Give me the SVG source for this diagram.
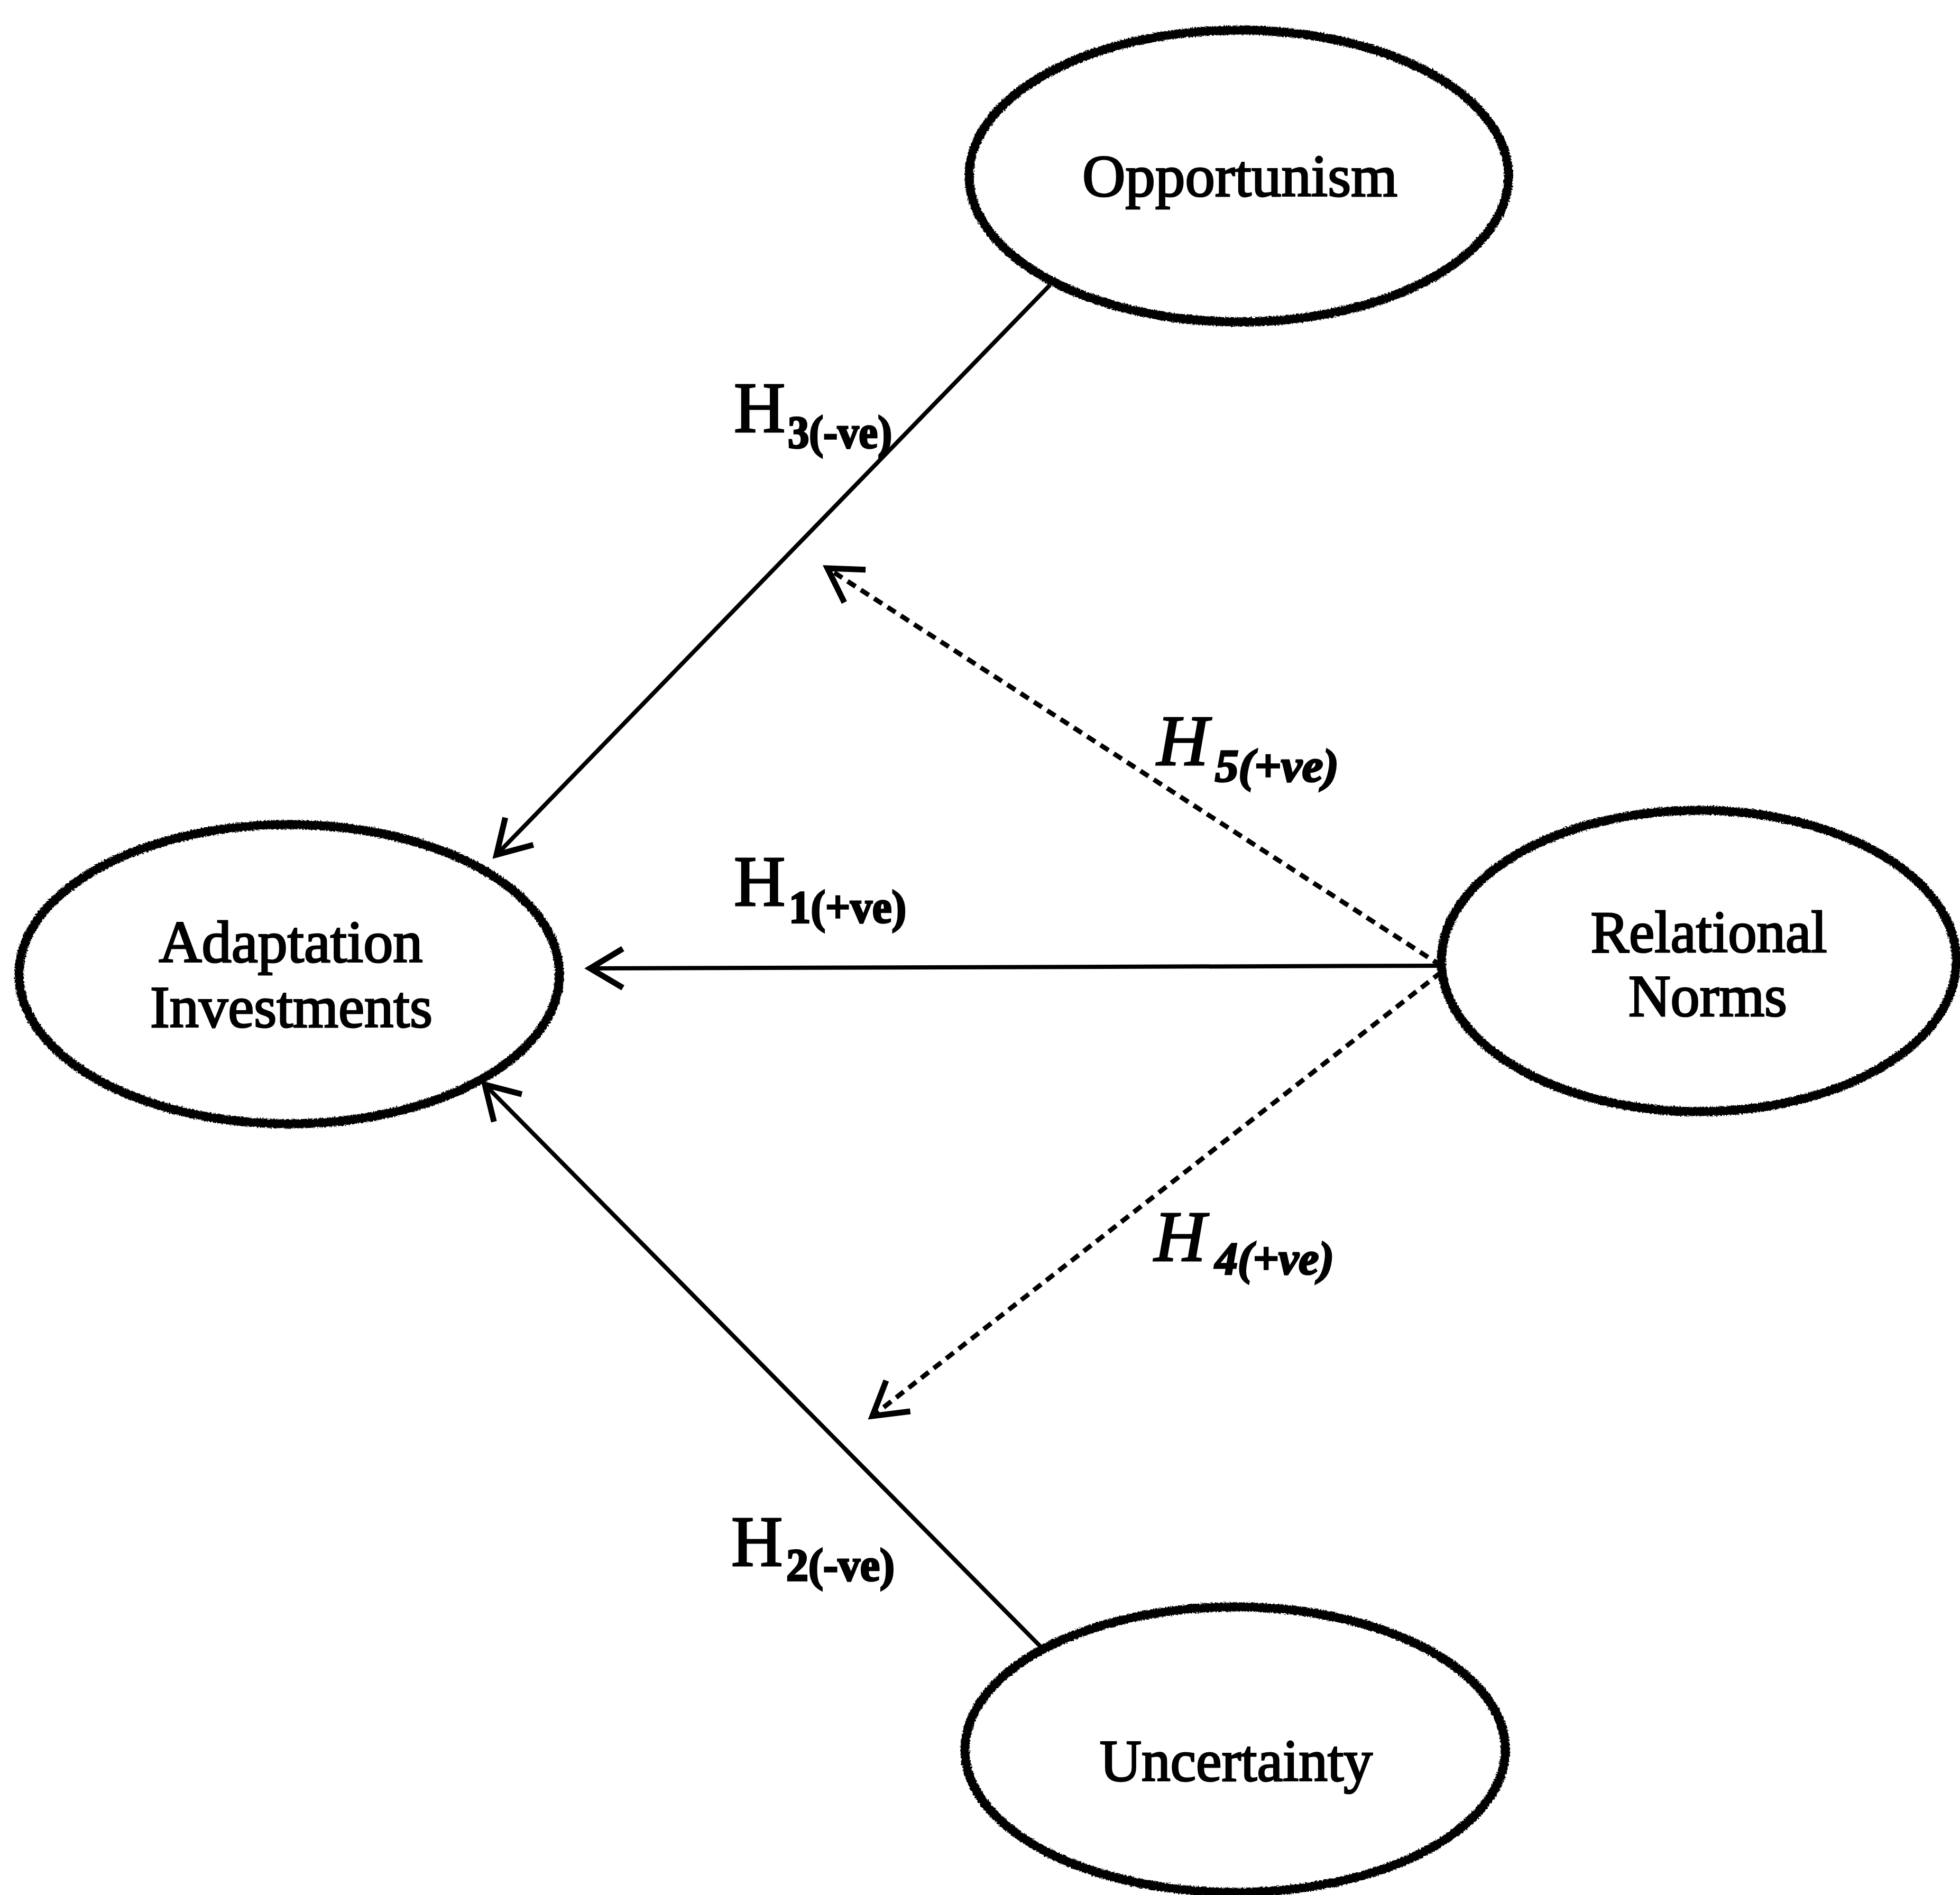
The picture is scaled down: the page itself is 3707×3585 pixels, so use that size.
<svg xmlns="http://www.w3.org/2000/svg" width="3707" height="3585" viewBox="0 0 3707 3585">
<style>
.node ellipse{fill:#fff;stroke:#000;stroke-width:17}
.lbl{font-family:"Liberation Serif","Times New Roman",serif;font-size:112px;fill:#000;stroke:#000;stroke-width:3;text-anchor:middle}
.h{font-family:"Liberation Serif","Times New Roman",serif;font-size:135px;fill:#000;stroke:#000;stroke-width:3}
.sub{font-family:"Liberation Serif","Times New Roman",serif;font-size:86px;fill:#000;stroke:#000;stroke-width:3.5;font-weight:bold}
.it{font-style:italic}
.solid{fill:none;stroke:#000;stroke-width:8}
.dash{fill:none;stroke:#000;stroke-width:9;stroke-dasharray:18 12}
</style>
<defs>
<filter id="rough" x="-10%" y="-10%" width="120%" height="120%">
<feTurbulence type="fractalNoise" baseFrequency="0.35" numOctaves="2" seed="3" result="n"/>
<feDisplacementMap in="SourceGraphic" in2="n" scale="7" xChannelSelector="R" yChannelSelector="G"/>
</filter>
<marker id="arr" markerUnits="userSpaceOnUse" markerWidth="200" markerHeight="200" refX="0" refY="0" orient="auto" overflow="visible">
<path d="M-62,-37 L0,0 L-62,37" fill="none" stroke="#000" stroke-width="11" stroke-linejoin="miter"/>
</marker>
</defs>
<rect width="3707" height="3585" fill="#fff"/>
<g id="connectors">
<line id="e-h3" class="solid" x1="1986" y1="539" x2="939" y2="1617" marker-end="url(#arr)"/>
<line id="e-h1" class="solid" x1="2731" y1="1827" x2="1116" y2="1832" marker-end="url(#arr)"/>
<line id="e-h2" class="solid" x1="1969" y1="3116" x2="917" y2="2052" marker-end="url(#arr)"/>
<line id="e-h5" class="dash" x1="2726" y1="1827" x2="1565" y2="1075" marker-end="url(#arr)"/>
<line id="e-h4" class="dash" x1="2726" y1="1839" x2="1650" y2="2679" marker-end="url(#arr)"/>
</g>
<g id="node-opportunism" class="node">
<ellipse cx="2343" cy="333" rx="510" ry="276" filter="url(#rough)"/>
<text class="lbl" x="2345" y="371" textLength="596" lengthAdjust="spacingAndGlyphs">Opportunism</text>
</g>
<g id="node-adaptation" class="node">
<ellipse cx="547" cy="1843" rx="511" ry="283" filter="url(#rough)"/>
<text class="lbl" x="550" y="1820" textLength="499" lengthAdjust="spacingAndGlyphs">Adaptation</text>
<text class="lbl" x="551" y="1943" textLength="534" lengthAdjust="spacingAndGlyphs">Investments</text>
</g>
<g id="node-relational" class="node">
<ellipse cx="3213" cy="1818" rx="487" ry="285" filter="url(#rough)"/>
<text class="lbl" x="3232" y="1801" textLength="447" lengthAdjust="spacingAndGlyphs">Relational</text>
<text class="lbl" x="3230" y="1922" textLength="300" lengthAdjust="spacingAndGlyphs">Norms</text>
</g>
<g id="node-uncertainty" class="node">
<ellipse cx="2336" cy="3310" rx="511" ry="270" filter="url(#rough)"/>
<text class="lbl" x="2338" y="3369" textLength="516" lengthAdjust="spacingAndGlyphs">Uncertainty</text>
</g>
<g id="labels">
<text class="h" x="1388" y="817">H</text><text class="sub" x="1490" y="847" textLength="197" lengthAdjust="spacingAndGlyphs">3(-ve)</text>
<text class="h" x="1388" y="1713">H</text><text class="sub" x="1492" y="1745" textLength="222" lengthAdjust="spacingAndGlyphs">1(+ve)</text>
<text class="h" x="1383" y="2962">H</text><text class="sub" x="1487" y="2990" textLength="205" lengthAdjust="spacingAndGlyphs">2(-ve)</text>
<text class="h it" x="2188" y="1447">H</text><text class="sub it" x="2298" y="1478" textLength="234" lengthAdjust="spacingAndGlyphs">5(+ve)</text>
<text class="h it" x="2183" y="2385">H</text><text class="sub it" x="2298" y="2410" textLength="225" lengthAdjust="spacingAndGlyphs">4(+ve)</text>
</g>
</svg>
